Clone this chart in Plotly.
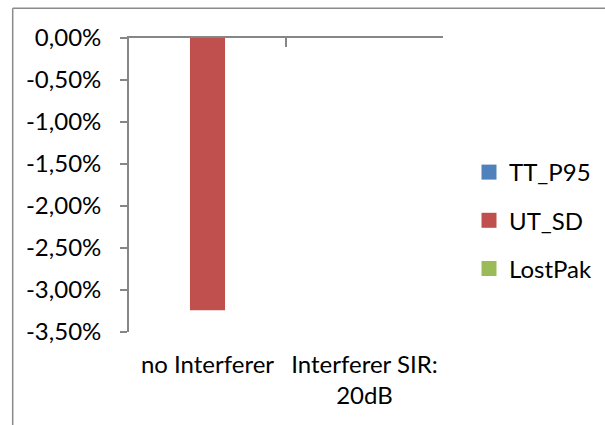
import plotly.graph_objects as go

# Chart data (values in percent)
categories = ["no Interferer", "Interferer SIR: 20dB"]
category_labels = ["no Interferer", "Interferer SIR:<br>20dB"]
series_names = ["TT_P95", "UT_SD", "LostPak"]
tt_p95 = [0.0, 0.0]
ut_sd = [-3.24, 0.0]
lostpak = [0.0, 0.0]
y_ticks = [0.0, -0.5, -1.0, -1.5, -2.0, -2.5, -3.0, -3.5]
y_tick_labels = ["0,00%", "-0,50%", "-1,00%", "-1,50%", "-2,00%", "-2,50%", "-3,00%", "-3,50%"]
series_colors = ["#4F81BD", "#C0504D", "#9BBB59"]

W, H = 605, 425
FONT = "Lato"
FS = 24
AXIS_GREY = "#868686"

fig = go.Figure()

for name, vals, col in zip(series_names, [tt_p95, ut_sd, lostpak], series_colors):
    fig.add_trace(go.Bar(
        x=categories, y=vals, name=name, marker=dict(color=col, line=dict(width=0)),
        showlegend=False, hoverinfo="skip",
    ))

# legend entries with larger square swatches
for i, (name, col) in enumerate(zip(series_names, series_colors)):
    fig.add_trace(go.Scatter(
        x=[None], y=[None], mode="markers", name=name, legendgroup=f"g{i}",
        marker=dict(symbol="square", size=15, color=col, line=dict(width=0)),
        hoverinfo="skip",
    ))

# helper trace that carries the lower category label axis
fig.add_trace(go.Scatter(x=[0, 1], y=[None, None], xaxis="x2", mode="markers",
                         showlegend=False, hoverinfo="skip"))

x0, x1 = 129 / W, 443 / W
y_top, y_bot = 1 - 37.7 / H, 1 - 332 / H

fig.update_layout(
    template="none",
    width=W, height=H,
    margin=dict(l=0, r=0, t=0, b=0, autoexpand=False),
    paper_bgcolor="white", plot_bgcolor="white",
    font=dict(family=FONT, size=FS, color="black"),
    barmode="group", bargap=0.33, bargroupgap=0,
    xaxis=dict(
        type="category", domain=[x0, x1], range=[-0.5, 1.5], side="top",
        showline=True, linecolor=AXIS_GREY, linewidth=1.75,
        ticks="inside", tickson="boundaries", ticklen=9, tickcolor=AXIS_GREY, tickwidth=1.5,
        showticklabels=False, showgrid=False, zeroline=False, automargin=False,
    ),
    xaxis2=dict(
        overlaying="x", anchor="y", side="bottom", type="linear", range=[-0.5, 1.5],
        tickvals=[0, 1], ticktext=category_labels, showline=False, ticks="",
        showgrid=False, zeroline=False, ticklabelstandoff=16, automargin=False,
        tickfont=dict(family=FONT, size=FS, color="black"),
    ),
    yaxis=dict(
        domain=[y_bot, y_top], range=[-3.5, 0],
        tickvals=y_ticks, ticktext=y_tick_labels,
        showline=True, linecolor=AXIS_GREY, linewidth=1.75,
        ticks="outside", ticklen=7, tickcolor=AXIS_GREY, tickwidth=1.5,
        ticklabelstandoff=14, automargin=False,
        showgrid=False, zeroline=False,
        tickfont=dict(family=FONT, size=FS, color="black"),
    ),
    legend=dict(
        x=469 / W, xanchor="left", y=1 - 150 / H, yanchor="top",
        tracegroupgap=14, font=dict(family=FONT, size=FS, color="black"),
        bgcolor="rgba(0,0,0,0)", borderwidth=0,
    ),
    shapes=[
        dict(type="line", xref="paper", yref="paper", x0=12.7 / W, x1=12.7 / W,
             y0=1 - 8.3 / H, y1=-0.1, line=dict(color="#8a8a8a", width=1.5)),
        dict(type="line", xref="paper", yref="paper", x0=12.7 / W, x1=1.1,
             y0=1 - 8.3 / H, y1=1 - 8.3 / H, line=dict(color="#8a8a8a", width=1.5)),
    ],
)

fig.write_html("out.html")
